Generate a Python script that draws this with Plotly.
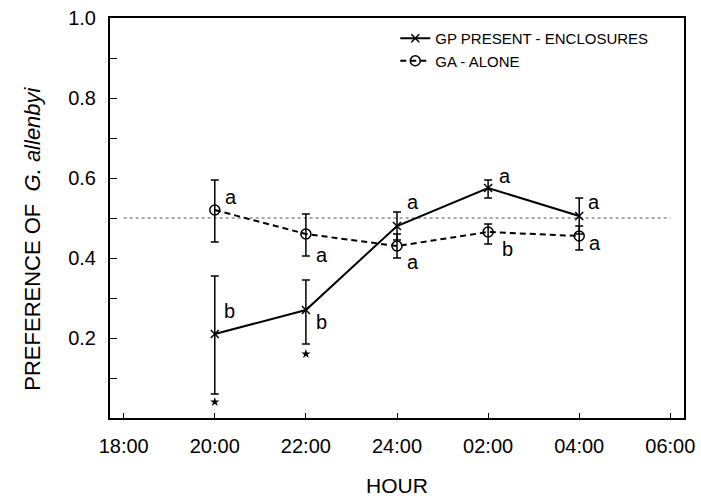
import plotly.graph_objects as go

hours = ["18:00", "20:00", "22:00", "24:00", "02:00", "04:00", "06:00"]
obs_hours = ["20:00", "22:00", "24:00", "02:00", "04:00"]

gp_mean = [0.21, 0.27, 0.48, 0.575, 0.505]
gp_upper = [0.355, 0.345, 0.515, 0.595, 0.55]
gp_lower = [0.06, 0.185, 0.445, 0.55, 0.46]
gp_letters = ["b", "b", "a", "a", "a"]

ga_mean = [0.52, 0.46, 0.43, 0.465, 0.455]
ga_upper = [0.595, 0.51, 0.46, 0.485, 0.48]
ga_lower = [0.44, 0.405, 0.40, 0.435, 0.42]
ga_letters = ["a", "a", "a", "b", "a"]

star_hours = ["20:00", "22:00"]
star_values = [0.04, 0.16]

ref_hours = ["18:00", "06:00"]
ref_values = [0.5, 0.5]

font_family = "Liberation Sans, Arial, sans-serif"

fig = go.Figure()

fig.add_trace(go.Scatter(
    x=ref_hours, y=ref_values, mode="lines",
    line=dict(color="#555555", width=1, dash="dot"),
    showlegend=False, hoverinfo="skip"))

fig.add_trace(go.Scatter(
    x=obs_hours, y=gp_mean, mode="lines+markers",
    name="GP PRESENT - ENCLOSURES",
    line=dict(color="black", width=2),
    marker=dict(symbol="x-thin", size=8, line=dict(color="black", width=1.5)),
    error_y=dict(type="data", symmetric=False,
                 array=[u - m for u, m in zip(gp_upper, gp_mean)],
                 arrayminus=[m - l for m, l in zip(gp_mean, gp_lower)],
                 color="black", thickness=1.5, width=4)))

fig.add_trace(go.Scatter(
    x=obs_hours, y=ga_mean, mode="lines+markers",
    name="GA - ALONE",
    line=dict(color="black", width=2, dash="6px,4px"),
    marker=dict(symbol="circle-open", size=10, color="black",
                line=dict(color="black", width=1.5)),
    error_y=dict(type="data", symmetric=False,
                 array=[u - m for u, m in zip(ga_upper, ga_mean)],
                 arrayminus=[m - l for m, l in zip(ga_mean, ga_lower)],
                 color="black", thickness=1.5, width=4)))

fig.add_trace(go.Scatter(
    x=star_hours, y=star_values, mode="markers",
    marker=dict(symbol="star", size=7, color="black"),
    showlegend=False, hoverinfo="skip"))

annotations = []
gp_shift = [(15, 23), (16, -12), (16, 24), (17, 12), (15, 14)]
ga_shift = [(16, 13), (16, -21), (16, -16), (19, -17), (16, -7)]
for h, v, t, (dx, dy) in zip(obs_hours, gp_mean, gp_letters, gp_shift):
    annotations.append(dict(x=h, y=v, text=t, showarrow=False, xshift=dx, yshift=dy,
                            font=dict(size=20, color="black", family=font_family)))
for h, v, t, (dx, dy) in zip(obs_hours, ga_mean, ga_letters, ga_shift):
    annotations.append(dict(x=h, y=v, text=t, showarrow=False, xshift=dx, yshift=dy,
                            font=dict(size=20, color="black", family=font_family)))

# y-axis title (placed as rotated text so it can sit slightly below centre as in the original)
annotations.append(dict(
    xref="paper", yref="paper", x=-0.135, y=0.447,
    xanchor="center", yanchor="middle", textangle=-90, showarrow=False,
    text="PREFERENCE OF  <i>G. allenbyi</i>",
    font=dict(size=22, color="black", family=font_family)))

fig.update_layout(
    width=701, height=499,
    margin=dict(l=110, r=17, t=18, b=81),
    paper_bgcolor="white", plot_bgcolor="white",
    font=dict(family=font_family, color="black"),
    annotations=annotations,
    legend=dict(x=0.497, y=0.99, xanchor="left", yanchor="top",
                bgcolor="rgba(0,0,0,0)", font=dict(size=15),
                tracegroupgap=0),
)

fig.update_xaxes(
    type="category", categoryorder="array", categoryarray=hours,
    range=[-0.15, 6.15], automargin=False,
    showline=True, linecolor="black", linewidth=2, mirror=True,
    ticks="inside", ticklen=5, tickcolor="black",
    tickfont=dict(size=20), ticklabelstandoff=9,
    showgrid=False, zeroline=False,
    title=dict(text="HOUR", font=dict(size=21), standoff=22),
)

y_ticks = [0.1, 0.2, 0.3, 0.4, 0.5, 0.6, 0.7, 0.8, 0.9, 1.0]
y_labels = ["", "0.2", "", "0.4", "", "0.6", "", "0.8", "", "1.0"]
fig.update_yaxes(
    range=[0, 1.0], automargin=False,
    tickvals=y_ticks, ticktext=y_labels,
    showline=True, linecolor="black", linewidth=2, mirror=True,
    ticks="inside", ticklen=7, tickcolor="black",
    tickfont=dict(size=20), ticklabelstandoff=8,
    showgrid=False, zeroline=False,
)

fig.write_html("out.html")
